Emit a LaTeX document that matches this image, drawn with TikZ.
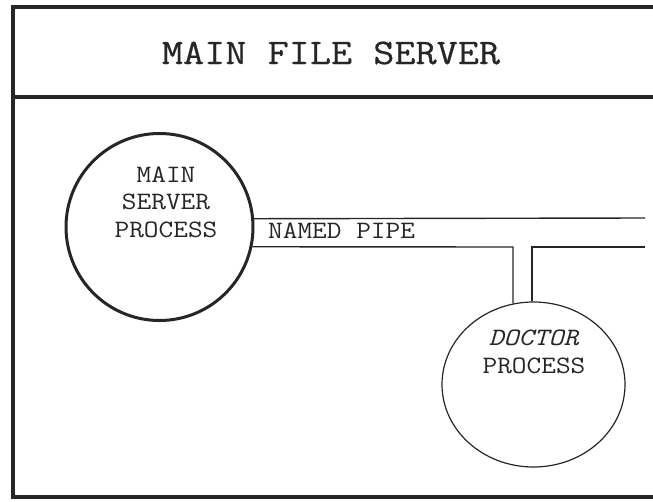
\documentclass[tikz,border=0pt]{standalone}
\usepackage{fontspec}
\setmonofont[FakeStretch=1.14]{Latin Modern Mono}
\usetikzlibrary{shapes.geometric}
\tikzset{
  frame/.style={line width=3.2pt, color=black!85},
  proc/.style={circle, draw, line width=3pt, color=black!85, inner sep=0pt, minimum size=187pt},
  doc/.style={ellipse, draw, line width=1.2pt, color=black!85, inner sep=0pt, minimum width=183pt, minimum height=165pt},
  pipe/.style={line width=1.4pt, color=black!85},
  txt/.style={font=\fontsize{25}{27.5}\selectfont\ttfamily, text=black!85, inner sep=0pt, align=center},
  ttl/.style={font=\fontsize{36}{40}\selectfont\ttfamily\addfontfeature{FakeBold=0.6}, text=black!85, inner sep=0pt}
}
\begin{document}
\begin{tikzpicture}[x=1pt,y=-1pt]
\useasboundingbox (0,0) rectangle (653,501);
\draw[frame] (653,7) -- (13,7) -- (13,497) -- (653,497);
\draw[frame] (13,97) -- (653,97);
\node[ttl, anchor=base] (title) at (331,64) {MAIN FILE SERVER};
\node[proc] (main) at (159.5,227) {};
\node[txt, anchor=base] (mainlbl) at (166,237) {MAIN\\SERVER\\PROCESS};
\node[doc] (doctor) at (533.5,384.5) {};
\node[txt, anchor=base] (doclbl) at (534,373) {\textit{DOCTOR}\\PROCESS};
\node[txt, anchor=base west] (pipelbl) at (268,238) {NAMED PIPE};
\coordinate (ptr) at (645,218);
\coordinate (pbr) at (645,247);
\coordinate (jl) at (513,247);
\coordinate (jr) at (532,247);
\draw[pipe] (main.5.5) -- (ptr);
\draw[pipe] (main.-12.4) -- (jl) -- (jl |- doctor.104.3);
\draw[pipe] (jr |- doctor.91) -- (jr) -- (pbr);
\end{tikzpicture}
\end{document}
